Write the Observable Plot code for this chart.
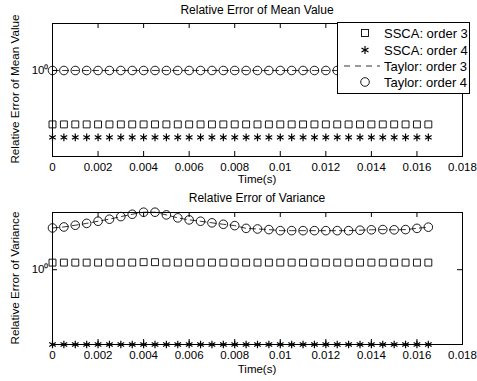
<!DOCTYPE html>
<html>
<head>
<meta charset="utf-8">
<script src="https://cdn.jsdelivr.net/npm/d3@7"></script>
<script src="https://cdn.jsdelivr.net/npm/@observablehq/plot@0.6"></script>
<style>
  html, body { margin: 0; padding: 0; background: #fff; }
  #wrap { position: relative; width: 477px; height: 381px; background: #fff; font-family: "Liberation Sans", Arial, Helvetica, sans-serif; color: #000; overflow: hidden; }
  .panel { position: absolute; left: 0; }
  .txt { position: absolute; font-size: 11.5px; white-space: nowrap; line-height: 1; }
  .title { font-size: 12px; }
  .ylab { position: absolute; font-size: 11.7px; white-space: nowrap; line-height: 1; transform: translate(-50%, -50%) rotate(-90deg); }
  #legend { position: absolute; left: 337px; top: 22px; width: 131px; height: 70px; background: #fff; border: 1px solid #000; font-size: 13px; }
  #legend .row { position: absolute; left: 0; width: 131px; height: 14px; }
  #legend .row svg { position: absolute; left: 0; top: 0; }
  #legend .row span { position: absolute; left: 46px; top: 1px; line-height: 1; }
</style>
</head>
<body>
<div id="wrap">
  <div class="txt title" style="left:257px; top:4px; transform:translateX(-50%);">Relative Error of Mean Value</div>
  <div class="txt" style="left:257px; top:174px; transform:translateX(-50%);">Time(s)</div>
  <div class="ylab" style="left:15px; top:89px;">Relative Error of Mean Value</div>
  <div class="txt title" style="left:257px; top:192px; transform:translateX(-50%);">Relative Error of Variance</div>
  <div class="txt" style="left:257px; top:364px; transform:translateX(-50%);">Time(s)</div>
  <div class="ylab" style="left:15px; top:278px;">Relative Error of Variance</div>
  <div id="p1" class="panel" style="top:0;"></div>
  <div id="p2" class="panel" style="top:190px;"></div>
  <div id="legend"></div>
</div>
<script>
// ---------- data ----------
const time = [0, 0.0005, 0.001, 0.0015, 0.002, 0.0025, 0.003, 0.0035, 0.004, 0.0045,
  0.005, 0.0055, 0.006, 0.0065, 0.007, 0.0075, 0.008, 0.0085, 0.009, 0.0095,
  0.01, 0.0105, 0.011, 0.0115, 0.012, 0.0125, 0.013, 0.0135, 0.014, 0.0145,
  0.015, 0.0155, 0.016, 0.0165];

const seriesNames = ["SSCA: order 3", "SSCA: order 4", "Taylor: order 3", "Taylor: order 4"];

// Relative error of mean value
const meanSSCA3 = [0.571, 0.571, 0.571, 0.571, 0.571, 0.571, 0.571, 0.571, 0.571, 0.571,
  0.571, 0.571, 0.571, 0.571, 0.571, 0.571, 0.571, 0.571, 0.571, 0.571,
  0.571, 0.571, 0.571, 0.571, 0.571, 0.571, 0.571, 0.571, 0.571, 0.571,
  0.571, 0.571, 0.571, 0.571];
const meanSSCA4 = [0.499, 0.499, 0.499, 0.499, 0.499, 0.499, 0.499, 0.499, 0.499, 0.499,
  0.499, 0.499, 0.499, 0.499, 0.499, 0.499, 0.499, 0.499, 0.499, 0.499,
  0.499, 0.499, 0.499, 0.499, 0.499, 0.499, 0.499, 0.499, 0.499, 0.499,
  0.499, 0.499, 0.499, 0.499];
const meanTaylor3 = [1.0, 1.0, 1.0, 1.0, 1.0, 1.0, 1.0, 1.0, 1.0, 1.0,
  1.0, 1.0, 1.0, 1.0, 1.0, 1.0, 1.0, 1.0, 1.0, 1.0,
  1.0, 1.0, 1.0, 1.0, 1.0, 1.0, 1.0, 1.0, 1.0, 1.0,
  1.0, 1.0, 1.0, 1.0];
const meanTaylor4 = [1.0, 1.0, 1.0, 1.0, 1.0, 1.0, 1.0, 1.0, 1.0, 1.0,
  1.0, 1.0, 1.0, 1.0, 1.0, 1.0, 1.0, 1.0, 1.0, 1.0,
  1.0, 1.0, 1.0, 1.0, 1.0, 1.0, 1.0, 1.0, 1.0, 1.0,
  1.0, 1.0, 1.0, 1.0];

// Relative error of variance
const varSSCA3 = [1.16, 1.16, 1.16, 1.16, 1.16, 1.16, 1.16, 1.16, 1.17, 1.17,
  1.16, 1.16, 1.16, 1.16, 1.16, 1.16, 1.16, 1.16, 1.16, 1.16,
  1.16, 1.16, 1.16, 1.16, 1.16, 1.16, 1.16, 1.16, 1.16, 1.16,
  1.16, 1.16, 1.16, 1.16];
const varSSCA4 = [0.21, 0.21, 0.21, 0.21, 0.21, 0.21, 0.21, 0.21, 0.21, 0.21,
  0.21, 0.21, 0.21, 0.21, 0.21, 0.21, 0.21, 0.21, 0.21, 0.21,
  0.21, 0.21, 0.21, 0.21, 0.21, 0.21, 0.21, 0.21, 0.21, 0.21,
  0.21, 0.21, 0.21, 0.21];
const varTaylor3 = [2.39, 2.44, 2.53, 2.63, 2.75, 2.87, 3.03, 3.18, 3.32, 3.32,
  3.14, 2.95, 2.83, 2.75, 2.66, 2.58, 2.51, 2.37, 2.34, 2.31,
  2.26, 2.26, 2.26, 2.26, 2.26, 2.26, 2.26, 2.28, 2.30, 2.31,
  2.30, 2.31, 2.37, 2.43];
const varTaylor4 = [2.39, 2.44, 2.53, 2.63, 2.75, 2.87, 3.03, 3.18, 3.32, 3.32,
  3.14, 2.95, 2.83, 2.75, 2.66, 2.58, 2.51, 2.37, 2.34, 2.31,
  2.26, 2.26, 2.26, 2.26, 2.26, 2.26, 2.26, 2.28, 2.30, 2.31,
  2.30, 2.31, 2.37, 2.43];

const xTicks = [0, 0.002, 0.004, 0.006, 0.008, 0.01, 0.012, 0.014, 0.016, 0.018];
const yTicks = [1];
const yTickLabels = ["10⁰"];

// ---------- drawing ----------
const rows = (ys) => time.map((t, i) => ({t, v: ys[i]}));
const xfmt = d => String(+d.toFixed(4));
const yfmt = d => yTickLabels[yTicks.indexOf(+d)] ?? "";

function panel({height, marginTop, marginBottom, yDomain, s3, s4, t3, t4}) {
  const W = 477, ML = 52, MR = 15;
  const fh = height - marginTop - marginBottom;
  const fw = W - ML - MR;
  const tick = 5;
  return Plot.plot({
    width: W, height, marginTop, marginBottom, marginLeft: ML, marginRight: MR,
    style: {fontFamily: '"Liberation Sans", Arial, Helvetica, sans-serif', fontSize: "11.5px", color: "#000", background: "transparent", overflow: "visible"},
    x: {domain: [0, 0.018], label: null},
    y: {type: "log", domain: yDomain, label: null},
    marks: [
      Plot.axisX({ticks: xTicks, tickSize: 0, tickPadding: 6, tickFormat: xfmt, label: null}),
      Plot.axisY({ticks: yTicks, tickSize: 0, tickPadding: 4, tickFormat: yfmt, label: null}),
      Plot.tickX(xTicks, {x: d => d, insetTop: fh - tick, stroke: "#000"}),
      Plot.tickX(xTicks, {x: d => d, insetBottom: fh - tick, stroke: "#000"}),
      Plot.tickY(yTicks, {y: d => d, insetRight: fw - tick, stroke: "#000"}),
      Plot.tickY(yTicks, {y: d => d, insetLeft: fw - tick, stroke: "#000"}),
      Plot.frame({stroke: "#000", strokeWidth: 1}),
      Plot.line(rows(t3), {x: "t", y: "v", stroke: "#000", strokeWidth: 0.8, strokeDasharray: "6,4"}),
      Plot.dot(rows(t4), {x: "t", y: "v", symbol: "circle", r: 4.3, stroke: "#000", fill: "none", strokeWidth: 0.9}),
      Plot.dot(rows(s3), {x: "t", y: "v", symbol: "square", r: 3.9, stroke: "#000", fill: "none", strokeWidth: 0.9}),
      Plot.dot(rows(s4), {x: "t", y: "v", symbol: "asterisk", r: 3.6, stroke: "#000", fill: "none", strokeWidth: 1.2})
    ]
  });
}

document.getElementById("p1").append(panel({
  height: 190, marginTop: 23, marginBottom: 34, yDomain: [0.409, 1.63],
  s3: meanSSCA3, s4: meanSSCA4, t3: meanTaylor3, t4: meanTaylor4
}));
document.getElementById("p2").append(panel({
  height: 191, marginTop: 22, marginBottom: 37, yDomain: [0.21, 3.3],
  s3: varSSCA3, s4: varSSCA4, t3: varTaylor3, t4: varTaylor4
}));

// legend
const legend = document.getElementById("legend");
const legendSymbols = [
  '<rect x="23.5" y="3.5" width="7" height="7" fill="none" stroke="#000" stroke-width="0.9"/>',
  '<g stroke="#000" stroke-width="1.2"><line x1="27" y1="3" x2="27" y2="11"/><line x1="23.5" y1="5" x2="30.5" y2="9"/><line x1="23.5" y1="9" x2="30.5" y2="5"/></g>',
  '<line x1="6" y1="7" x2="42" y2="7" stroke="#000" stroke-width="0.8" stroke-dasharray="6,5"/>',
  '<circle cx="27" cy="7" r="4.3" fill="none" stroke="#000" stroke-width="0.9"/>'
];
const rowTops = [3, 20, 36, 52];
seriesNames.forEach((name, i) => {
  const row = document.createElement("div");
  row.className = "row";
  row.style.top = rowTops[i] + "px";
  row.innerHTML = `<svg width="46" height="14">${legendSymbols[i]}</svg><span>${name}</span>`;
  legend.append(row);
});
</script>
</body>
</html>
